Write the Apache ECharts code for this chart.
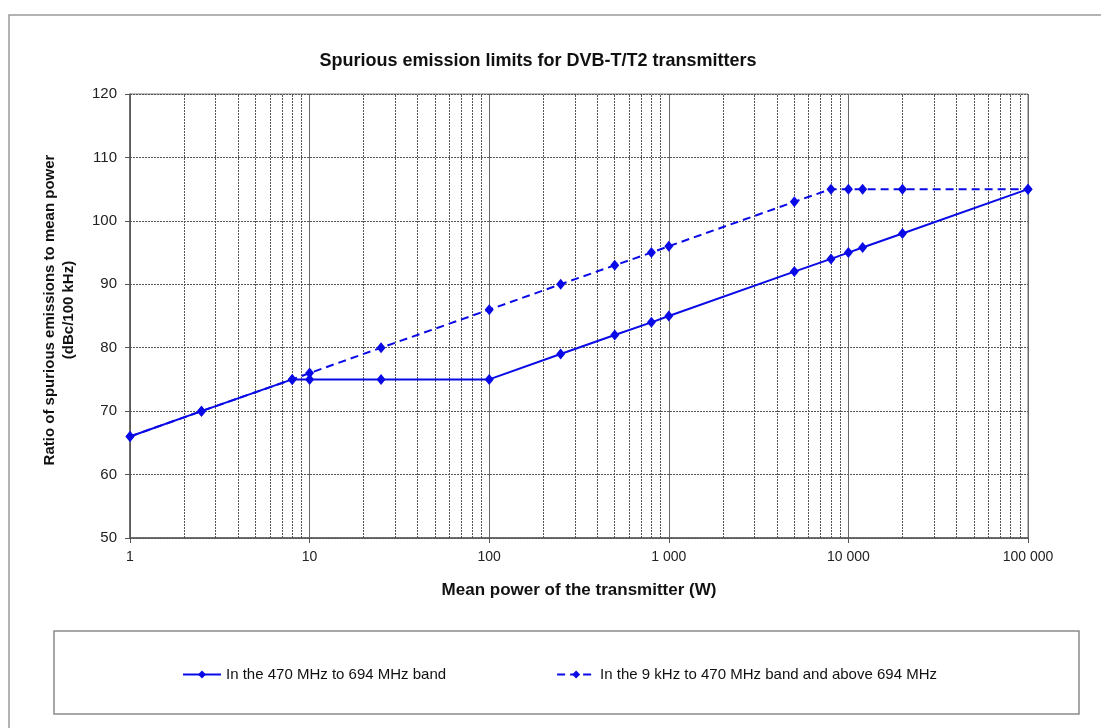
<!DOCTYPE html>
<html>
<head>
<meta charset="utf-8">
<script src="https://cdn.jsdelivr.net/npm/echarts@6/dist/echarts.min.js"></script>
<style>
  html, body { margin: 0; padding: 0; background: #fff; }
  #chart { width: 1101px; height: 728px; }
</style>
</head>
<body>
<div id="chart"></div>
<script>
// Mean transmitter power (W)
const powerUhf = [1, 2.5, 8, 10, 25, 100, 250, 500, 800, 1000, 5000, 8000, 10000, 12000, 20000, 100000];
// Limits in the 470 MHz to 694 MHz band (dBc/100 kHz)
const limitUhf = [66, 70, 75, 75, 75, 75, 79, 82, 84, 85, 92, 94, 95, 95.8, 98, 105];

const powerOther = [1, 2.5, 8, 10, 25, 100, 250, 500, 800, 1000, 5000, 8000, 10000, 12000, 20000, 100000];
// Limits in the 9 kHz to 470 MHz band and above 694 MHz (dBc/100 kHz)
const limitOther = [66, 70, 75, 76, 80, 86, 90, 93, 95, 96, 103, 105, 105, 105, 105, 105];

const seriesNames = ['In the 470 MHz to 694 MHz band', 'In the 9 kHz to 470 MHz band and above 694 MHz'];
const yTicks = [50, 60, 70, 80, 90, 100, 110, 120];
const xDecades = [1, 10, 100, 1000, 10000, 100000];

const FONT = '"Liberation Sans", Arial, sans-serif';
const BLUE = '#0a0ae6';

// intermediate (2..9) grid positions inside each decade
const minorGrid = [];
for (let i = 0; i < xDecades.length - 1; i++) {
  for (let m = 2; m <= 9; m++) minorGrid.push({ xAxis: m * xDecades[i] });
}

const fmtThousands = v => String(Math.round(v)).replace(/\B(?=(\d{3})+(?!\d))/g, ' ');

const chart = echarts.init(document.getElementById('chart'), null, { renderer: 'canvas' });
chart.setOption({
  animation: false,
  backgroundColor: '#fff',
  title: {
    text: 'Spurious emission limits for DVB-T/T2 transmitters',
    left: 533,
    top: 47,
    textAlign: 'center',
    textStyle: { fontFamily: FONT, fontSize: 18, fontWeight: 'bold', color: '#111' }
  },
  graphic: [
    { type: 'rect', z: -1, shape: { x: 9, y: 15, width: 1100, height: 720 },
      style: { fill: 'none', stroke: '#9a9a9a', lineWidth: 1.5 } },
    { type: 'rect', z: -1, shape: { x: 54, y: 631, width: 1025, height: 83 },
      style: { fill: 'none', stroke: '#8a8a8a', lineWidth: 1.5 } }
  ],
  legend: {
    left: 182,
    top: 667,
    padding: 0,
    itemGap: 110,
    itemWidth: 38,
    itemHeight: 10,
    data: seriesNames,
    textStyle: { fontFamily: FONT, fontSize: 15, color: '#111' }
  },
  grid: {
    left: 130, right: 73, top: 94, bottom: 190,
    show: true, borderColor: '#7a7a7a', borderWidth: 1
  },
  xAxis: {
    type: 'log',
    logBase: 10,
    min: xDecades[0],
    max: xDecades[xDecades.length - 1],
    name: 'Mean power of the transmitter (W)',
    nameLocation: 'middle',
    nameGap: 44,
    nameTextStyle: { fontFamily: FONT, fontSize: 17, fontWeight: 'bold', color: '#111' },
    axisLine: { lineStyle: { color: '#555', width: 1.5 } },
    axisTick: { show: true, length: 5, lineStyle: { color: '#555' } },
    axisLabel: { fontFamily: FONT, fontSize: 14, color: '#222', margin: 12, formatter: fmtThousands },
    splitLine: { show: true, lineStyle: { color: '#6a6a6a', width: 1 } }
  },
  yAxis: {
    type: 'value',
    min: yTicks[0],
    max: yTicks[yTicks.length - 1],
    interval: 10,
    name: 'Ratio of spurious emissions to mean power\n(dBc/100 kHz)',
    nameLocation: 'middle',
    nameGap: 52,
    nameTextStyle: { fontFamily: FONT, fontSize: 15, fontWeight: 'bold', color: '#111', lineHeight: 19, padding: [0, 0, 0, 12] },
    axisLine: { show: true, lineStyle: { color: '#555', width: 1.5 } },
    axisTick: { show: true, length: 5, lineStyle: { color: '#555' } },
    axisLabel: { fontFamily: FONT, fontSize: 15, color: '#222', margin: 13 },
    splitLine: { show: true, lineStyle: { color: '#555', width: 1, type: [2, 1] } }
  },
  series: [
    {
      name: seriesNames[1],
      type: 'line',
      data: powerOther.map((p, i) => [p, limitOther[i]]),
      symbol: 'diamond',
      symbolSize: [9, 11],
      lineStyle: { color: BLUE, width: 2, type: [8, 5] },
      itemStyle: { color: BLUE },
      z: 3,
      markLine: {
        silent: true,
        symbol: 'none',
        label: { show: false },
        lineStyle: { color: '#555', width: 1, type: [2, 1] },
        data: minorGrid,
        z: 1
      }
    },
    {
      name: seriesNames[0],
      type: 'line',
      data: powerUhf.map((p, i) => [p, limitUhf[i]]),
      symbol: 'diamond',
      symbolSize: [9, 11],
      lineStyle: { color: BLUE, width: 2 },
      itemStyle: { color: BLUE },
      z: 4
    }
  ]
});
</script>
</body>
</html>
